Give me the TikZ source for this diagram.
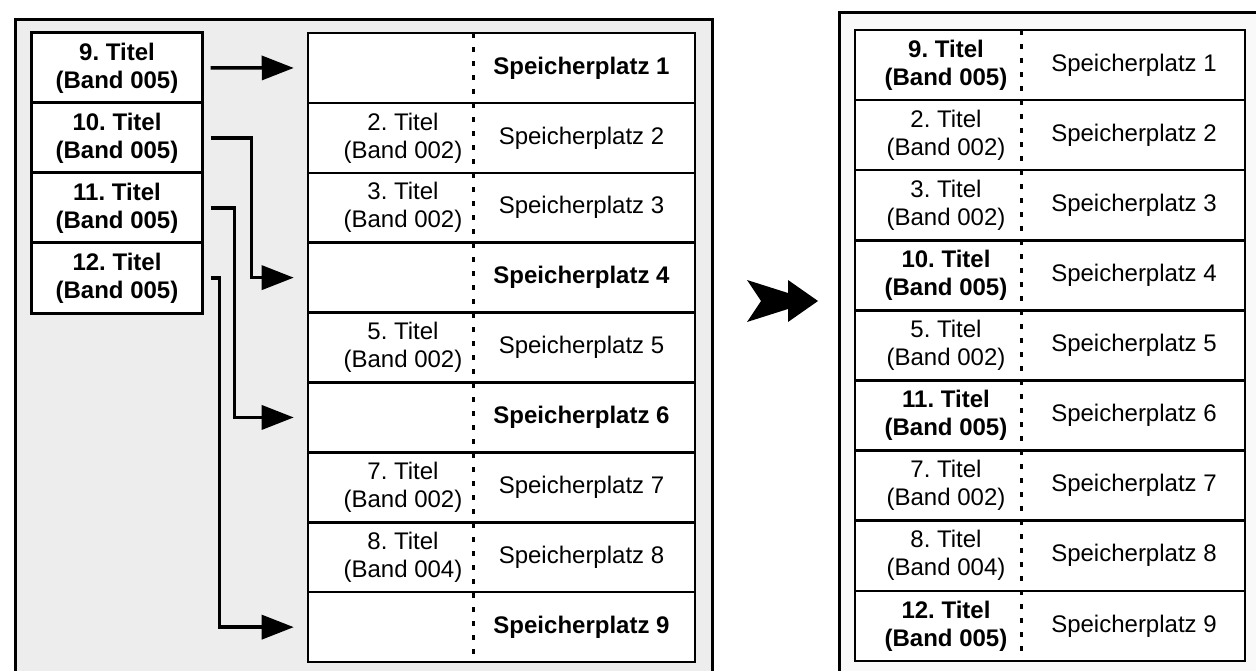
\documentclass[tikz,border=0pt]{standalone}
\usepackage{fontspec}
\setmainfont{Liberation Sans}
\usetikzlibrary{positioning,arrows.meta,calc}

\begin{document}
\begin{tikzpicture}[
  x=1bp,y=-1bp,
  schrift/.style={font=\fontsize{24bp}{28bp}\selectfont#1},
  schrift/.default={},
  rahmen/.style={draw,line width=3bp},
  neu/.style={draw,line width=3bp,fill=white,minimum width=170bp,minimum height=70bp,
    align=center,inner sep=0pt,schrift=\bfseries},
  platz/.style={draw,line width=2.5bp,fill=white,minimum width=387bp,minimum height=69.9bp,inner sep=0pt},
  platzb/.style={platz,minimum width=390bp,minimum height=70.1bp},
  titel/.style={align=center,inner sep=0pt,schrift=#1},
  titel/.default={},
  trenn/.style={line width=3bp,dash pattern=on 5bp off 9bp},
  pfeil/.style={-{Triangle[length=32bp,width=24bp]},line width=3.5bp,
    shorten <=7bp,shorten >=13bp}
]
\path[use as bounding box,clip] (0,0) rectangle (1256,671);

% vorher
\fill[gray!14] (15,20) rectangle (712,700);
\draw[rahmen] (15,700) -- (15,20) -- (712,20) -- (712,700);
\foreach \n [count=\i] in {9,10,11,12}
  \node[neu] (t\n) at (117,{33+70*(\i-0.5)}) {\n.\ Titel\\(Band 005)};
\foreach \i in {1,...,9}
  \node[platz] (a\i) at (501.5,{33+69.9*(\i-0.5)}) {};
\draw[trenn] (473,33) -- (473,662);
\foreach \t/\b in {2/002,3/002,5/002,7/002,8/004}
  \node[titel,xshift=-98.5bp] (l\t) at (a\t) {\t.\ Titel\\(Band \b)};
\foreach \i/\s in {1/\bfseries,2/\mdseries,3/\mdseries,4/\bfseries,5/\mdseries,
    6/\bfseries,7/\mdseries,8/\mdseries,9/\bfseries}
  \node[titel=\s,xshift=80bp] (s\i) at (a\i) {Speicherplatz \i};

\draw[pfeil] (t9.east) -- (a1.west);
\draw[pfeil] (t10.east) -- ++(48,0) |- (a4.west);
\draw[pfeil] (t11.east) -- ++(31,0) |- (a6.west);
\draw[pfeil] (t12.east) -- ++(16,0) |- (a9.west);

% Doppelpfeil
\fill (747,280) -- (788,293) -- (788,280) -- (818,301) -- (788,322)
  -- (788,309) -- (747,322) -- (761,301) -- cycle;

% nachher
\fill[gray!5] (839,13) rectangle (1300,700);
\draw[rahmen] (839,700) -- (839,13) -- (1300,13);
\foreach \i in {1,...,9}
  \node[platzb] (b\i) at (1050,{30+70.1*(\i-0.5)}) {};
\draw[trenn] (1021,30) -- (1021,661);
\foreach \t/\b/\s [count=\i] in {9/005/\bfseries,2/002/\mdseries,3/002/\mdseries,
    10/005/\bfseries,5/002/\mdseries,11/005/\bfseries,7/002/\mdseries,
    8/004/\mdseries,12/005/\bfseries}
  \node[titel=\s,xshift=-104bp] (r\i) at (b\i) {\t.\ Titel\\(Band \b)};
\foreach \i in {1,...,9}
  \node[titel,xshift=84bp] (q\i) at (b\i) {Speicherplatz \i};
\end{tikzpicture}
\end{document}
